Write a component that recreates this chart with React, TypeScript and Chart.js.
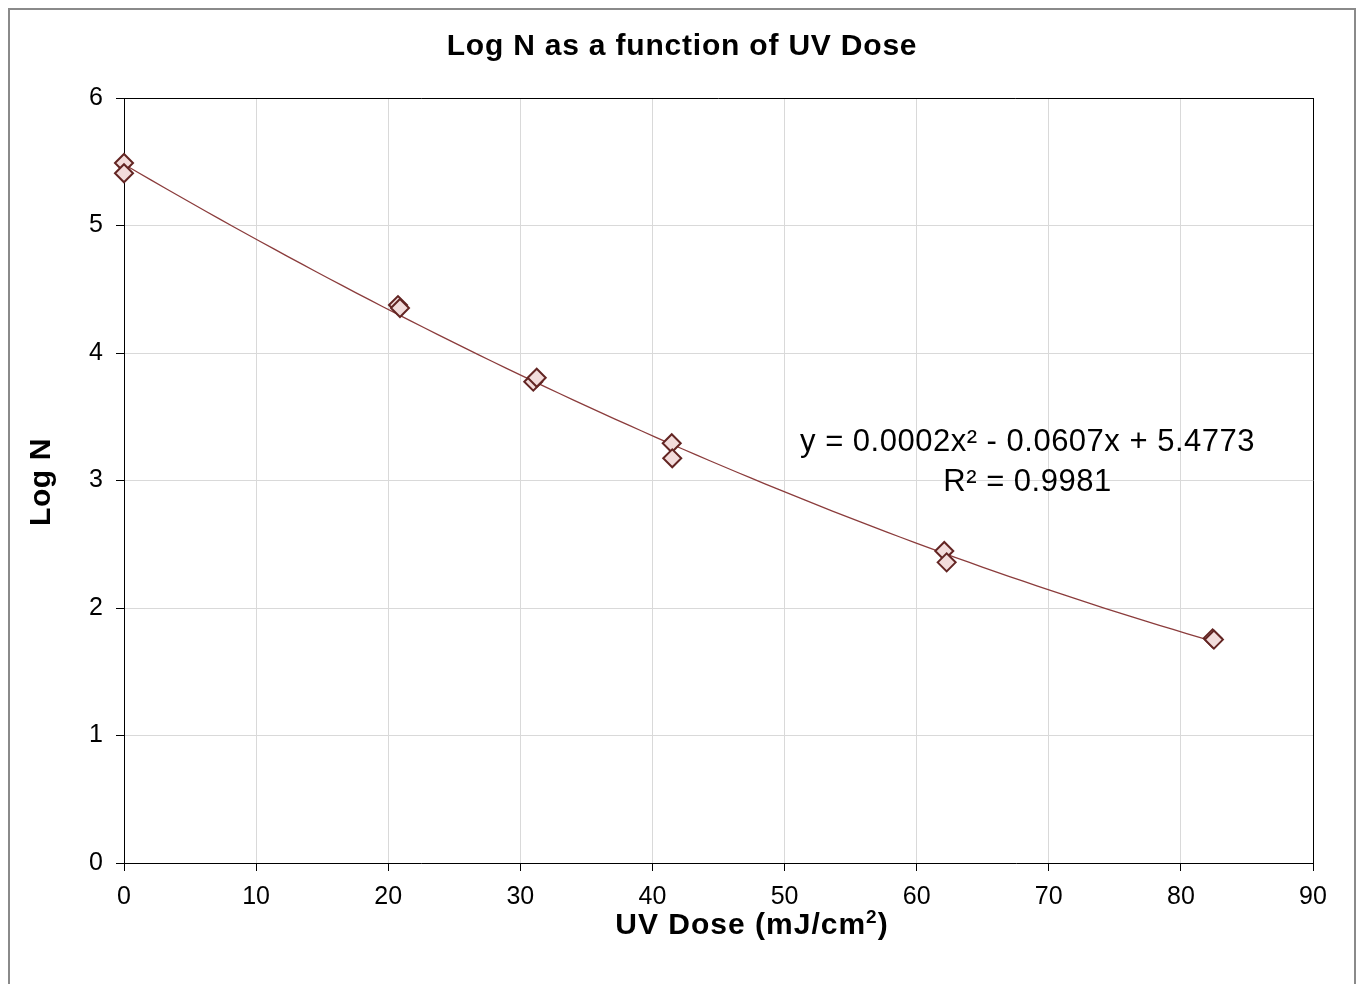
import React, { useEffect, useRef } from "react";
import { Chart, registerables } from "chart.js";

Chart.register(...registerables);

// ---- data ----
const doseValues = [0, 0, 20.74, 20.89, 30.98, 31.24, 41.46, 41.5, 62.09, 62.27, 82.4, 82.5];
const logNValues = [5.49, 5.41, 4.376, 4.353, 3.775, 3.806, 3.292, 3.174, 2.447, 2.358, 1.762, 1.752];
const xTickValues = [0, 10, 20, 30, 40, 50, 60, 70, 80, 90];
const yTickValues = [0, 1, 2, 3, 4, 5, 6];
const chartTitle = "Log N as a function of UV Dose";
const xAxisTitleParts = ["UV Dose (mJ/cm", "2", ")"];
const yAxisTitle = "Log N";
const equationLines = ["y = 0.0002x² - 0.0607x + 5.4773", "R² = 0.9981"];

const FONT = '"Liberation Sans", Arial, Helvetica, sans-serif';

// least-squares quadratic trendline from the data points
function quadFit(xs: number[], ys: number[]) {
  const s = [0, 0, 0, 0, 0];
  const t = [0, 0, 0];
  for (let i = 0; i < xs.length; i++) {
    let p = 1;
    for (let k = 0; k < 5; k++) {
      s[k] += p;
      if (k < 3) t[k] += p * ys[i];
      p *= xs[i];
    }
  }
  const M = [
    [s[0], s[1], s[2], t[0]],
    [s[1], s[2], s[3], t[1]],
    [s[2], s[3], s[4], t[2]],
  ];
  for (let c = 0; c < 3; c++) {
    for (let r = c + 1; r < 3; r++) {
      const f = M[r][c] / M[c][c];
      for (let k = c; k < 4; k++) M[r][k] -= f * M[c][k];
    }
  }
  const coef = [0, 0, 0];
  for (let r = 2; r >= 0; r--) {
    let v = M[r][3];
    for (let k = r + 1; k < 3; k++) v -= M[r][k] * coef[k];
    coef[r] = v / M[r][r];
  }
  return coef; // c0 + c1 x + c2 x^2
}

export default function App() {
  const ref = useRef<HTMLCanvasElement | null>(null);

  useEffect(() => {
    document.documentElement.style.overflow = "hidden";
    const canvas = ref.current;
    if (!canvas) return;

    const coef = quadFit(doseValues, logNValues);
    const xMax = Math.max(...doseValues);
    const trend: { x: number; y: number }[] = [];
    const steps = 80;
    for (let i = 0; i <= steps; i++) {
      const x = (xMax * i) / steps;
      trend.push({ x, y: coef[0] + coef[1] * x + coef[2] * x * x });
    }
    const points = doseValues.map((x, i) => ({ x, y: logNValues[i] }));

    const framePlugin = {
      id: "frame",
      beforeDatasetsDraw(chart: any) {
        const { ctx, chartArea } = chart;
        ctx.save();
        ctx.strokeStyle = "#000";
        ctx.lineWidth = 1;
        ctx.beginPath();
        ctx.moveTo(chartArea.left, Math.round(chartArea.top) + 0.5);
        ctx.lineTo(chartArea.right, Math.round(chartArea.top) + 0.5);
        ctx.moveTo(Math.round(chartArea.right) + 0.5, chartArea.top);
        ctx.lineTo(Math.round(chartArea.right) + 0.5, chartArea.bottom);
        ctx.stroke();
        ctx.restore();
      },
    };

    const textPlugin = {
      id: "texts",
      afterDraw(chart: any) {
        const { ctx, scales } = chart;
        ctx.save();
        ctx.fillStyle = "#000";
        const c: any = ctx;

        // chart title
        ctx.font = `bold 30px ${FONT}`;
        c.letterSpacing = "0.8px";
        ctx.textAlign = "left";
        ctx.textBaseline = "middle";
        let w = ctx.measureText(chartTitle).width;
        ctx.fillText(chartTitle, 672 - w / 2, 37);

        // x axis title with superscript
        c.letterSpacing = "1px";
        ctx.textBaseline = "alphabetic";
        const big = `bold 30px ${FONT}`;
        const small = `bold 19px ${FONT}`;
        ctx.font = big;
        const w0 = ctx.measureText(xAxisTitleParts[0]).width;
        const w2 = ctx.measureText(xAxisTitleParts[2]).width;
        ctx.font = small;
        const w1 = ctx.measureText(xAxisTitleParts[1]).width;
        let x0 = 742 - (w0 + w1 + w2) / 2;
        const base = 924;
        ctx.font = big;
        ctx.fillText(xAxisTitleParts[0], x0, base);
        ctx.font = small;
        ctx.fillText(xAxisTitleParts[1], x0 + w0, base - 11);
        ctx.font = big;
        ctx.fillText(xAxisTitleParts[2], x0 + w0 + w1, base);

        // y axis title
        ctx.save();
        ctx.translate(32, 472);
        ctx.rotate(-Math.PI / 2);
        ctx.font = big;
        c.letterSpacing = "0.6px";
        ctx.textBaseline = "middle";
        w = ctx.measureText(yAxisTitle).width;
        ctx.fillText(yAxisTitle, -w / 2, 0);
        ctx.restore();

        // trendline equation
        const cx = scales.x.getPixelForValue(68.39);
        const ys = [3.302, 2.988];
        ctx.font = `31px ${FONT}`;
        c.letterSpacing = "0.5px";
        ctx.textBaseline = "middle";
        equationLines.forEach((line, i) => {
          const lw = ctx.measureText(line).width;
          ctx.fillText(line, cx - lw / 2, scales.y.getPixelForValue(ys[i]));
        });
        ctx.restore();
      },
    };

    const chart = new Chart(canvas, {
      type: "scatter",
      data: {
        datasets: [
          {
            label: "Log N",
            data: points,
            pointStyle: "rectRot",
            pointRadius: 9,
            pointHoverRadius: 9,
            pointBackgroundColor: "#f2dcdb",
            pointBorderColor: "#632523",
            pointBorderWidth: 2,
            order: 0,
            clip: false as any,
          },
          {
            label: "Trend",
            data: trend,
            showLine: true,
            pointRadius: 0,
            borderColor: "#8b3c3c",
            borderWidth: 1.3,
            order: 1,
          },
        ],
      },
      options: {
        responsive: false,
        animation: false,
        devicePixelRatio: 1,
        layout: { padding: { left: 0, right: 41, top: 88, bottom: 0 } },
        plugins: {
          legend: { display: false },
          tooltip: { enabled: false },
          title: { display: false },
        },
        scales: {
          x: {
            type: "linear",
            min: 0,
            max: 90,
            afterBuildTicks: (s: any) => {
              s.ticks = xTickValues.map((v) => ({ value: v }));
            },
            afterFit: (s: any) => {
              s.height = 133;
            },
            ticks: {
              color: "#000",
              font: { family: FONT, size: 25 },
              padding: 11,
              maxRotation: 0,
            },
            grid: { color: "#d9d9d9", tickColor: "#000", tickLength: 8, lineWidth: 1 },
            border: { color: "#000", width: 1 },
            title: { display: false },
          },
          y: {
            type: "linear",
            min: 0,
            max: 6,
            afterBuildTicks: (s: any) => {
              s.ticks = yTickValues.map((v) => ({ value: v }));
            },
            afterFit: (s: any) => {
              s.width = 114;
            },
            ticks: {
              color: "#000",
              font: { family: FONT, size: 25 },
              padding: 13,
            },
            grid: { color: "#d9d9d9", tickColor: "#000", tickLength: 8, lineWidth: 1 },
            border: { color: "#000", width: 1 },
            title: { display: false },
          },
        },
      },
      plugins: [framePlugin, textPlugin],
    });

    return () => chart.destroy();
  }, []);

  return (
    <div
      style={{
        width: 1348,
        height: 990,
        boxSizing: "border-box",
        border: "2px solid #8a8a8a",
        background: "#fff",
      }}
    >
      <canvas ref={ref} width={1344} height={986} style={{ display: "block" }} />
    </div>
  );
}
